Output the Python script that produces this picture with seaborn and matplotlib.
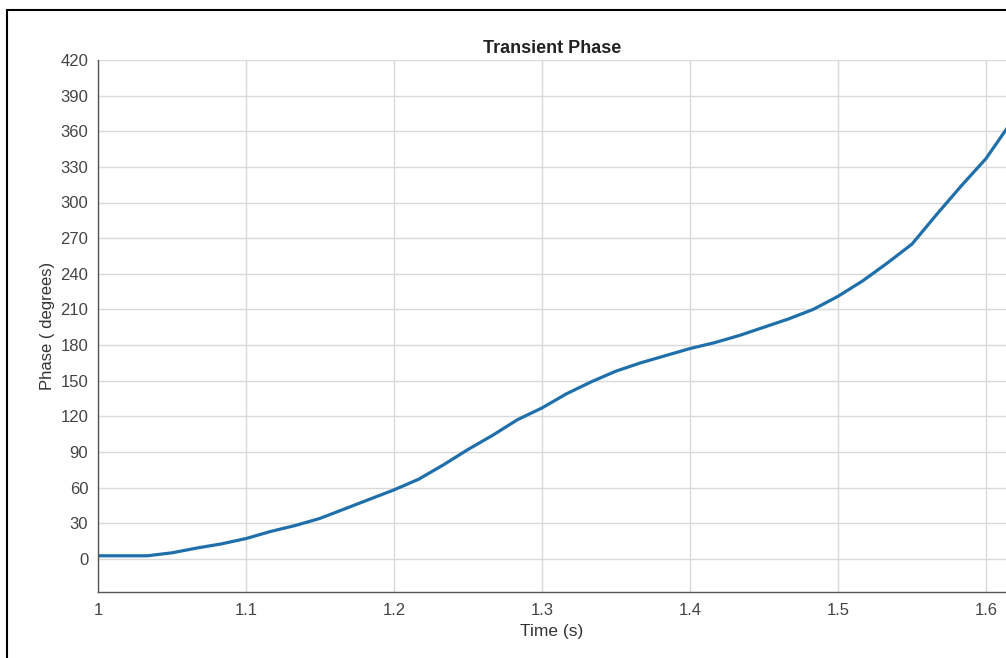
import seaborn as sns
import matplotlib.pyplot as plt
import pandas as pd
from matplotlib.patches import Rectangle

# Phase samples (step 1/60 s)
time_s = [1.0, 1.0333, 1.05, 1.0667, 1.0833, 1.1, 1.1167, 1.1333, 1.15, 1.1667,
          1.1833, 1.2, 1.2167, 1.2333, 1.25, 1.2667, 1.2833, 1.3, 1.3167, 1.3333,
          1.35, 1.3667, 1.3833, 1.4, 1.4167, 1.4333, 1.45, 1.4667, 1.4833, 1.5,
          1.5167, 1.5333, 1.55, 1.5667, 1.5833, 1.6, 1.6167]
phase_deg = [2.5, 2.5, 5, 9, 12.5, 17, 23, 28, 34, 42,
             50, 58, 67, 79, 92, 104, 117, 127, 139, 149,
             158, 165, 171, 177, 182, 188, 195, 202, 210, 221,
             234, 249, 265, 290, 314, 337, 367]
y_ticks = list(range(0, 421, 30))
x_ticks = [1.0, 1.1, 1.2, 1.3, 1.4, 1.5, 1.6]

df = pd.DataFrame({'Time (s)': time_s, 'Phase': phase_deg})

sns.set_style('whitegrid')
plt.rcParams['font.family'] = ['Liberation Sans', 'DejaVu Sans']

fig = plt.figure(figsize=(10.06, 6.58), dpi=100)
ax = fig.add_axes([98 / 1006, 66 / 658, 908 / 1006, 532 / 658])

sns.lineplot(data=df, x='Time (s)', y='Phase', ax=ax, color='#1f6fab', linewidth=2.3)

ax.set_xlim(1.0, 1.0 + 908 / 1480)
ax.set_ylim(-28, 420)
ax.set_xticks(x_ticks)
ax.set_xticklabels(['1', '1.1', '1.2', '1.3', '1.4', '1.5', '1.6'])
ax.set_yticks(y_ticks)

ax.grid(True, color='#d9d9d9', linewidth=1.0)
for s in ['top', 'right']:
    ax.spines[s].set_visible(False)
for s in ['left', 'bottom']:
    ax.spines[s].set_color('#555555')
    ax.spines[s].set_linewidth(1.0)

ax.tick_params(axis='both', direction='in', length=5, width=1, color='#555555',
               labelsize=12, labelcolor='#444444')
ax.tick_params(axis='x', pad=8)
ax.tick_params(axis='y', pad=7)

ax.set_title('Transient Phase', fontsize=13, fontweight='bold', color='#222222', pad=5)
ax.set_xlabel('Time (s)', fontsize=12.5, color='#333333', labelpad=4)
ax.set_ylabel('Phase ( degrees)', fontsize=12, color='#333333', labelpad=4)

# screenshot frame on left and top
fig.patches.append(Rectangle((7 / 1006, -0.1), 1.2, 1.1 - 10 / 658, transform=fig.transFigure,
                             fill=False, edgecolor='black', linewidth=1.5, zorder=10))

fig.savefig('out.png', dpi=100)
